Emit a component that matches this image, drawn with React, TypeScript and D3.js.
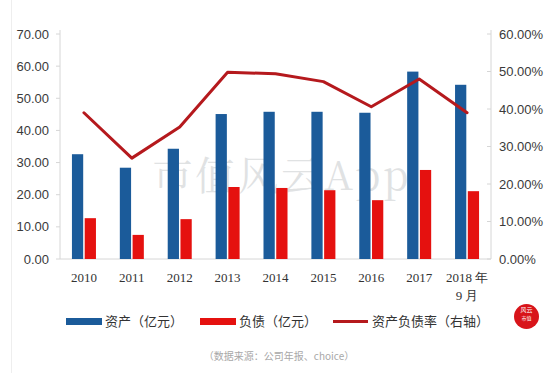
import React from "react";
import * as d3 from "d3";

const categories = ["2010", "2011", "2012", "2013", "2014", "2015", "2016", "2017", "2018 年|9 月"];
const assets = [32.6, 28.4, 34.3, 45.1, 45.8, 45.8, 45.5, 58.3, 54.2];
const liabilities = [12.7, 7.5, 12.4, 22.4, 22.1, 21.4, 18.3, 27.7, 21.1];
const ratio = [0.39, 0.269, 0.352, 0.498, 0.494, 0.473, 0.406, 0.48, 0.39];
const leftTicks = [0, 10, 20, 30, 40, 50, 60, 70];
const rightTicks = [0, 0.1, 0.2, 0.3, 0.4, 0.5, 0.6];

const W = 550, H = 373;
const L = 60, R = 491, T = 34, B = 259;
const BLUE = "#1b5b9a";
const RED = "#e5110f";
const LINE = "#b5191d";

export default function App() {
  const x = d3.scaleBand<string>().domain(categories).range([L, R]).paddingInner(0).paddingOuter(0);
  const yL = d3.scaleLinear().domain([0, 70]).range([B, T]);
  const yR = d3.scaleLinear().domain([0, 0.6]).range([B, T]);
  const bw = x.bandwidth() * 0.235;
  const gap = 1.5;
  const cx = (c: string) => (x(c) as number) + x.bandwidth() / 2;
  const line = d3.line<number>().x((_, i) => cx(categories[i])).y((d) => yR(d));
  const fmtL = d3.format(".2f");
  const fmtR = d3.format(".2%");
  const sans = "'Liberation Sans', Arial, sans-serif";
  const serif = "'Liberation Serif', 'Times New Roman', serif";
  const cjk = "'Noto Sans CJK SC', sans-serif";

  return (
    <svg width={W} height={H} style={{ position: "absolute", left: 0, top: 0, background: "#fff" }}>
      <rect x={0} y={0} width={W} height={H} fill="#fff" />
      <line x1={11.5} x2={11.5} y1={0} y2={H} stroke="#eeeeee" />
      {/* watermark */}
      <text x={282} y={190} textAnchor="middle" fontFamily="'Noto Serif CJK SC', 'Noto Sans CJK SC', serif" fontSize={40} fill="#9aa0a6" opacity={0.3} letterSpacing={3}>
        市值风云App
      </text>
      {/* axes */}
      <line x1={L} x2={L} y1={T - 4} y2={B} stroke="#d6d6d6" />
      <line x1={R} x2={R} y1={T - 4} y2={B} stroke="#d6d6d6" />
      <line x1={L} x2={R} y1={B} y2={B} stroke="#d6d6d6" />
      {leftTicks.map((t) => (
        <g key={"l" + t}>
          <line x1={L - 4} x2={L} y1={yL(t)} y2={yL(t)} stroke="#d6d6d6" />
          <text x={L - 11} y={yL(t)} dy="0.35em" textAnchor="end" fontFamily={sans} fontSize={13} fill="#3a3a3a">
            {fmtL(t)}
          </text>
        </g>
      ))}
      {rightTicks.map((t) => (
        <g key={"r" + t}>
          <line x1={R - 4} x2={R} y1={yR(t)} y2={yR(t)} stroke="#d6d6d6" />
          <text x={R + 8} y={yR(t)} dy="0.35em" textAnchor="start" fontFamily={sans} fontSize={13} fill="#3a3a3a">
            {fmtR(t)}
          </text>
        </g>
      ))}
      {/* bars */}
      {categories.map((c, i) => (
        <g key={"b" + c}>
          <rect x={cx(c) - gap / 2 - bw} y={yL(assets[i])} width={bw} height={B - yL(assets[i])} fill={BLUE} />
          <rect x={cx(c) + gap / 2} y={yL(liabilities[i])} width={bw} height={B - yL(liabilities[i])} fill={RED} />
        </g>
      ))}
      {/* line */}
      <path d={line(ratio) as string} fill="none" stroke={LINE} strokeWidth={3} strokeLinejoin="round" strokeLinecap="round" />
      {/* x labels */}
      {categories.map((c) => {
        const parts = c.split("|");
        return (
          <text key={"x" + c} x={cx(c)} y={277} dy="0.35em" textAnchor="middle" fontFamily={serif} fontSize={13} fill="#333">
            {parts.map((p, j) => (
              <tspan key={j} x={cx(c)} dy={j === 0 ? "0.35em" : 18}>
                {p}
              </tspan>
            ))}
          </text>
        );
      })}
      {/* legend */}
      <rect x={66} y={318} width={36} height={7} fill={BLUE} />
      <text x={105} y={321.5} dy="0.35em" fontFamily={cjk} fontSize={13} fill="#333">资产（亿元）</text>
      <rect x={200} y={318} width={36} height={7} fill={RED} />
      <text x={239} y={321.5} dy="0.35em" fontFamily={cjk} fontSize={13} fill="#333">负债（亿元）</text>
      <line x1={333} x2={368} y1={321.5} y2={321.5} stroke={LINE} strokeWidth={3} />
      <text x={372} y={321.5} dy="0.35em" fontFamily={cjk} fontSize={13} fill="#333">资产负债率（右轴）</text>
      {/* logo */}
      <circle cx={526.5} cy={316.5} r={12.5} fill="#d8141a" />
      <text x={526.5} y={312} textAnchor="middle" fontFamily={cjk} fontSize={6} fill="#fff">风云</text>
      <text x={526.5} y={320} textAnchor="middle" fontFamily={cjk} fontSize={5} fill="#fff">市值</text>
      {/* source */}
      <text x={279} y={356.5} dy="0.35em" textAnchor="middle" fontFamily={cjk} fontSize={10} fill="#a8a8a8">
        （数据来源：公司年报、choice）
      </text>
    </svg>
  );
}
